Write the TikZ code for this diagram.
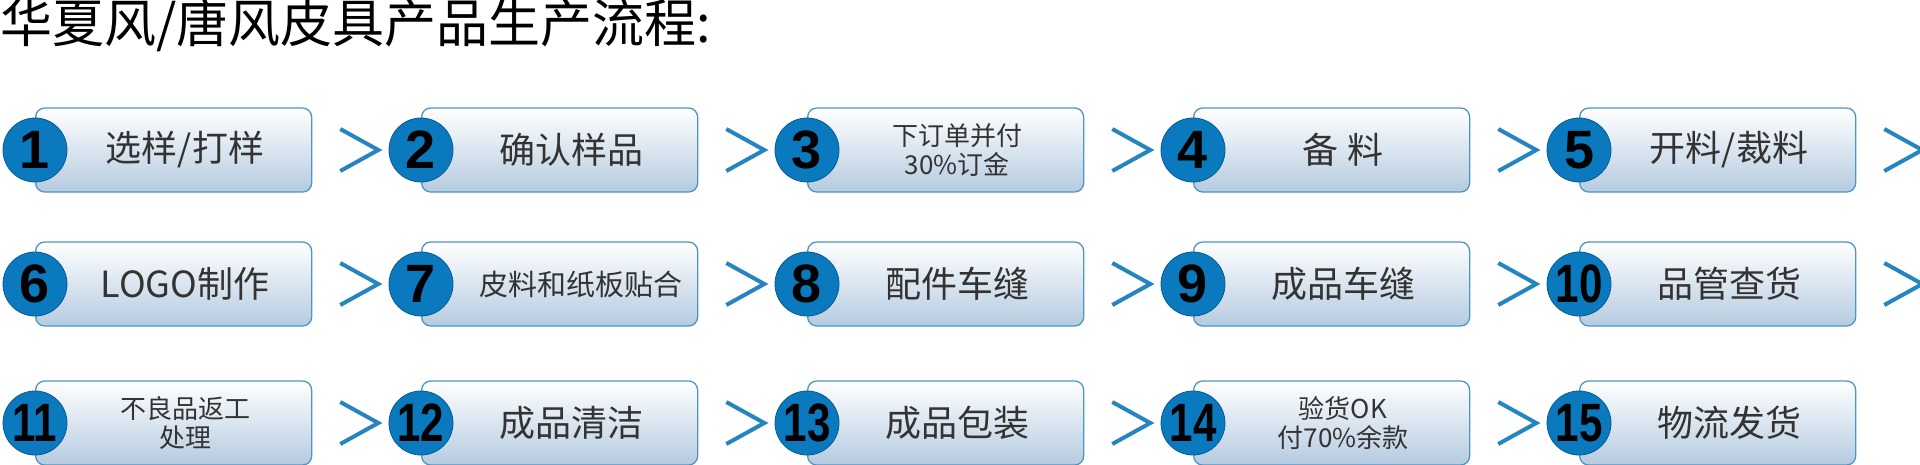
\documentclass[tikz,border=0pt]{standalone}
\usepackage{fontspec}
\setmainfont{Noto Sans CJK SC}
\newfontfamily\numfont{Liberation Sans}
\begin{document}
\begin{tikzpicture}[x=1pt,y=-1pt,
  box/.style={draw=boxline,line width=1.3pt,rounded corners=9pt,top color=white,bottom color=boxbot,minimum width=276pt,minimum height=84pt,anchor=west,inner sep=0pt},
  num/.style={circle,fill=numblue,draw=numdark,line width=0.8pt,minimum size=64pt,inner sep=0pt,font=\numfont\bfseries\fontsize{54}{54}\selectfont},
  lab/.style={font=\fontsize{36}{40}\selectfont,text=black!80,align=center},
  lab2/.style={font=\fontsize{26}{29}\selectfont,text=black!80,align=center},
  lab3/.style={font=\fontsize{29}{32}\selectfont,text=black!80,align=center},
  gt/.style={draw=arrblue,line width=4pt}]
\definecolor{boxline}{HTML}{4F95C4}
\definecolor{boxbot}{HTML}{B5CBE0}
\definecolor{numblue}{HTML}{0A79BE}
\definecolor{numdark}{HTML}{075C94}
\definecolor{arrblue}{HTML}{2585C2}
\useasboundingbox (0,0) rectangle (1920,464);
\node[anchor=north west,inner sep=0pt,font=\fontsize{52}{54}\selectfont] (title) at (0,-2) {华夏风/唐风皮具产品生产流程:};
\def\rowy{{150,284,423}}
\foreach \n/\r/\c/\t/\s in {
 1/0/0/{选样/打样}/lab, 2/0/1/{确认样品}/lab, 3/0/2/{下订单并付\\30\%订金}/lab2, 4/0/3/{备 料}/lab, 5/0/4/{开料/裁料}/lab,
 6/1/0/{LOGO制作}/lab, 7/1/1/{皮料和纸板贴合}/lab3, 8/1/2/{配件车缝}/lab, 9/1/3/{成品车缝}/lab, 10/1/4/{品管查货}/lab,
 11/2/0/{不良品返工\\处理}/lab2, 12/2/1/{成品清洁}/lab, 13/2/2/{成品包装}/lab, 14/2/3/{验货OK\\付70\%余款}/lab2, 15/2/4/{物流发货}/lab}{
  \pgfmathsetmacro\cx{35+386*\c}
  \pgfmathsetmacro\cy{\rowy[\r]}
  \node[box] (b\n) at (\cx,\cy) {};
  \ifnum\n=7
    \node[\s] (t\n) at (\cx+160,\cy) {\t};
  \else
    \node[\s] (t\n) at (\cx+150,\cy) {\t};
  \fi
  \ifnum\n>9
    \node[num] (c\n) at (\cx,\cy) {\scalebox{0.78}[1]{\n}};
  \else
    \node[num] (c\n) at (\cx,\cy) {\n};
  \fi
}
\foreach \n in {1,...,15}{
  \coordinate (a\n) at ([xshift=28pt,yshift=-21pt]b\n.east);
  \coordinate (m\n) at ([xshift=66pt]b\n.east);
  \coordinate (z\n) at ([xshift=28pt,yshift=21pt]b\n.east);
}
\foreach \n in {1,2,3,4,5,6,7,8,9,10,11,12,13,14}{
  \draw[gt] (a\n) -- (m\n) -- (z\n);
}
\end{tikzpicture}
\end{document}
